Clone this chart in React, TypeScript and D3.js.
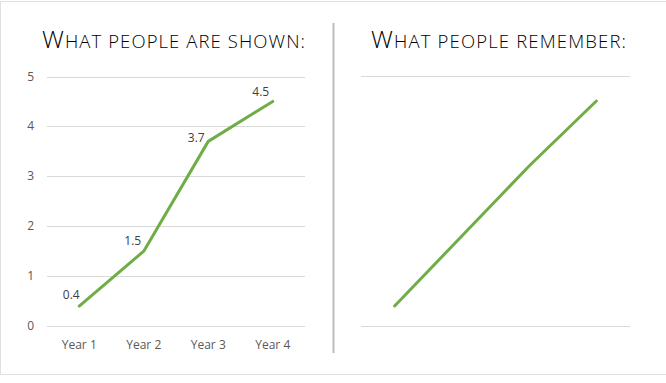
import React from "react";
import * as d3 from "d3";

const categories = ["Year 1", "Year 2", "Year 3", "Year 4"];
const shownValues = [0.4, 1.5, 3.7, 4.5];
const rememberedValues = [0.4, 1.8, 3.2, 4.5];
const yTicks = [0, 1, 2, 3, 4, 5];
const rememberedGrid = [0, 5];
const leftTitle = ["W", "HAT PEOPLE ARE SHOWN:"];
const rightTitle = ["W", "HAT PEOPLE REMEMBER:"];
const labelOffsets = [
  [-8, -7],
  [-11, -6],
  [-12, 1],
  [-12, -5],
];

const W = 666;
const H = 383;
const GREEN = "#70AD47";
const GRID = "#D9D9D9";
const TICK = "#595959";
const FONT = "'Open Sans', sans-serif";

function Title({ x, parts, len }: { x: number; parts: string[]; len: number }) {
  return (
    <text x={x} y={48} fontFamily={FONT} fontWeight={300} fill="#000" textLength={len} lengthAdjust="spacing">
      <tspan fontSize={24.5}>{parts[0]}</tspan>
      <tspan fontSize={18.5}>{parts[1]}</tspan>
    </text>
  );
}

export default function App() {
  const xL = d3.scaleBand<string>().domain(categories).range([47, 305]).padding(0);
  const yL = d3.scaleLinear().domain([0, 5]).range([326, 76.5]);
  const xR = d3.scaleBand<string>().domain(categories).range([361, 630]).padding(0);
  const yR = d3.scaleLinear().domain([0, 5]).range([326, 76]);

  const lineL = d3
    .line<number>()
    .x((_, i) => (xL(categories[i]) as number) + xL.bandwidth() / 2)
    .y((d) => yL(d));
  const lineR = d3
    .line<number>()
    .x((_, i) => (xR(categories[i]) as number) + xR.bandwidth() / 2)
    .y((d) => yR(d));

  return (
    <div style={{ position: "absolute", left: 0, top: 0 }}>
      <svg width={W} height={H} style={{ display: "block", background: "#fff" }}>
        <rect x={0.5} y={1.5} width={W + 2} height={373} fill="#fff" stroke="#E0E0E0" strokeWidth={1} />
        {/* divider */}
        <line x1={333.5} x2={333.5} y1={23} y2={353} stroke="#BDBDBD" strokeWidth={2} />

        {/* Left chart */}
        <Title x={42} parts={leftTitle} len={263} />
        {yTicks.map((t) => (
          <g key={"gl" + t}>
            <line x1={47} x2={305} y1={Math.round(yL(t)) + 0.5} y2={Math.round(yL(t)) + 0.5} stroke={GRID} strokeWidth={1} />
            <text x={34} y={yL(t) + 4} textAnchor="end" fontFamily={FONT} fontSize={12} fill={TICK}>
              {t}
            </text>
          </g>
        ))}
        {categories.map((c) => (
          <text
            key={"xl" + c}
            x={(xL(c) as number) + xL.bandwidth() / 2}
            y={349}
            textAnchor="middle"
            fontFamily={FONT}
            fontSize={12}
            fill={TICK}
          >
            {c}
          </text>
        ))}
        <path d={lineL(shownValues) || ""} fill="none" stroke={GREEN} strokeWidth={3} strokeLinejoin="round" strokeLinecap="round" />
        {shownValues.map((v, i) => (
          <text
            key={"dl" + i}
            x={(xL(categories[i]) as number) + xL.bandwidth() / 2 + labelOffsets[i][0]}
            y={yL(v) + labelOffsets[i][1]}
            textAnchor="middle"
            fontFamily={FONT}
            fontSize={12}
            fill="#404040"
          >
            {v.toFixed(1)}
          </text>
        ))}

        {/* Right chart */}
        <Title x={371} parts={rightTitle} len={255} />
        {rememberedGrid.map((t) => (
          <line key={"gr" + t} x1={361} x2={630} y1={Math.round(yR(t)) + 0.5} y2={Math.round(yR(t)) + 0.5} stroke={GRID} strokeWidth={1} />
        ))}
        <path d={lineR(rememberedValues) || ""} fill="none" stroke={GREEN} strokeWidth={3} strokeLinejoin="round" strokeLinecap="round" />
      </svg>
    </div>
  );
}
